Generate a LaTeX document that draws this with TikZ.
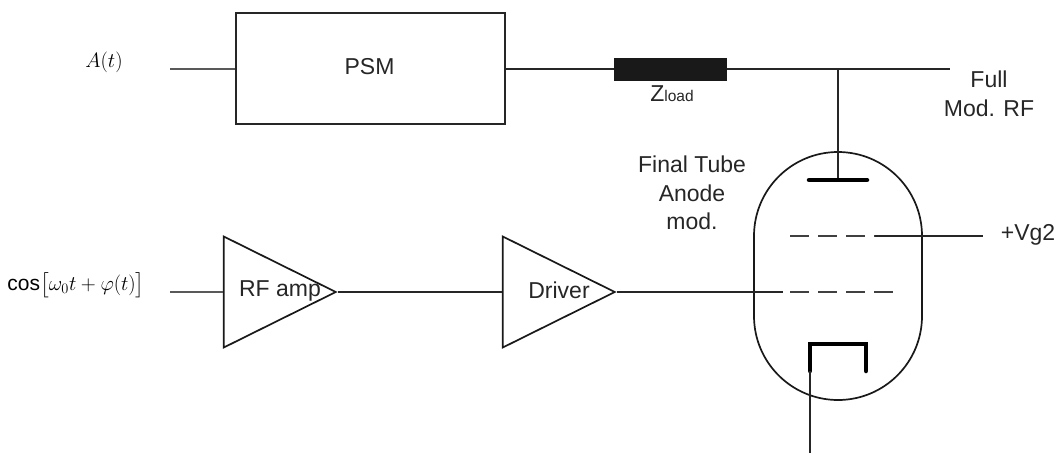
\documentclass[tikz,border=0pt]{standalone}
\usepackage{amsmath,amssymb,amsfonts}
\usepackage{fontspec}
\setmainfont{Liberation Sans}
\usepackage{tikz}
\usetikzlibrary{shapes.geometric}

\begin{document}
\begin{tikzpicture}[x=1pt, y=-1pt,
	wire/.style={draw=black!85, line width=2pt},
	feed/.style={draw=black!65, line width=2pt},
	grid line/.style={draw=black!75, line width=2pt, dash pattern=on 19pt off 9pt},
	plate/.style={draw=black, line width=4.5pt, line cap=round, line join=miter},
	block/.style={draw=black!85, line width=1.8pt, minimum width=269pt, minimum height=111pt},
	amp/.style={draw=black!90, line width=1.7pt, isosceles triangle, isosceles triangle stretches,
		minimum width=111pt, minimum height=112pt, inner sep=0pt, anchor=apex},
	txt/.style={text=black!85, font=\fontsize{23}{28.5}\selectfont, align=center, inner sep=0pt},
	mathtxt/.style={text=black, font=\fontsize{21}{24}\selectfont, inner sep=0pt}]
  \useasboundingbox (0,0) rectangle (1060,453);

  % top row
  \node [block] (psm) at (370.5,68.5) {};
  \node [txt] (psmlabel) at (369.5,66.5) {PSM};
  \node [draw=black!90, fill=black!90, line width=1pt, minimum width=112pt, minimum height=22pt, inner sep=0pt] (zload) at (670.5,69) {};
  \node [txt, anchor=north] (zlabel) at (672,85) {Z{\fontsize{15.5}{15.5}\selectfont load}};
  \coordinate (ain) at (170,69);
  \coordinate (tap) at (838,69);
  \coordinate (rfout) at (950,69);
  \node [mathtxt] (alabel) at (104,62) {$A(t)$};
  \node [txt] (rflabel) at (989,94) {Full\\Mod. RF};

  % bottom row
  \node [amp] (rfamp) at (338,292) {};
  \node [amp] (driver) at (617,292) {};
  \node [txt] (rflbl) at (280,291) {RF amp};
  \node [txt] (drvlbl) at (559,290) {Driver};
  \coordinate (cin) at (170,292);
  \node [mathtxt] (clabel) at (76,285) {$\cos\bigl[\omega_0 t+\varphi(t)\bigr]$};

  % tube
  \node [draw=black!90, line width=1.7pt, rounded corners=84pt, minimum width=168pt, minimum height=248pt, inner sep=0pt] (tube) at (838,276) {};
  \node [txt] (tubelabel) at (692,193) {Final Tube\\Anode\\mod.};
  \coordinate (anode) at (838,180);
  \coordinate (anodel) at (809,180);
  \coordinate (anoder) at (867,180);
  \coordinate (g2a) at (790,236);
  \coordinate (g2b) at (895,236);
  \coordinate (g2c) at (875,236);
  \coordinate (g2out) at (983,236);
  \coordinate (g1a) at (790,292);
  \coordinate (g1b) at (895,292);
  \coordinate (g1in) at (783,292);
  \coordinate (catha) at (810,371);
  \coordinate (cathb) at (810,344);
  \coordinate (cathc) at (866,344);
  \coordinate (cathd) at (866,371);
  \coordinate (cathout) at (810,453);
  \node [txt] (vglabel) at (1028,235) {+Vg2};

  \draw [feed] (ain) -- (psm.west |- ain);
  \draw [wire] (psm.east |- zload) -- (zload);
  \draw [wire] (zload) -- (rfout);
  \draw [wire] (tap) -- (anode);
  \draw [plate] (anodel) -- (anoder);
  \draw [grid line] (g2a) -- (g2b);
  \draw [wire] (g2c) -- (g2out);
  \draw [grid line] (g1a) -- (g1b);
  \draw [feed] (cin) -- (rfamp.lower side);
  \draw [wire] (rfamp.apex) -- (driver.lower side);
  \draw [wire] (driver.apex) -- (g1in);
  \draw [plate] (catha) -- (cathb) -- (cathc) -- (cathd);
  \draw [wire] (catha) -- (cathout);
\end{tikzpicture}
\end{document}
